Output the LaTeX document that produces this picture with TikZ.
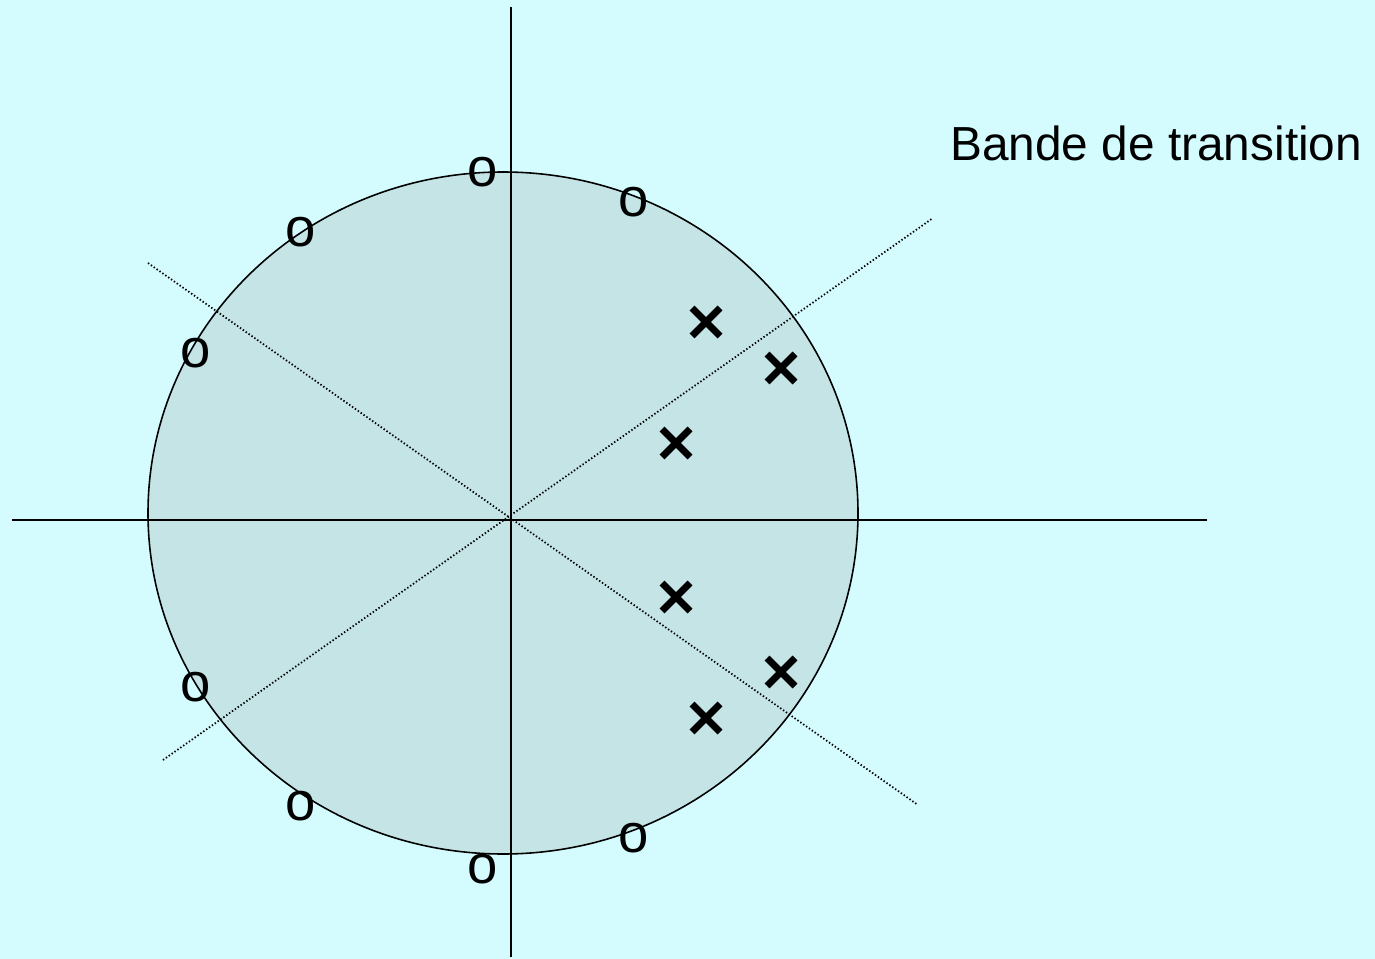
\documentclass[tikz,border=0pt]{standalone}
\usepackage{fontspec}
\setmainfont{Liberation Sans}
\definecolor{bgc}{RGB}{212,252,255}
\definecolor{discc}{RGB}{196,228,230}
\begin{document}
\begin{tikzpicture}[x=0.02cm,y=-0.02cm,
  zero/.style={inner sep=0pt,font=\fontsize{31}{31}\selectfont},
  pole/.style={line width=4pt},
  axis/.style={line width=0.8pt},
  diag/.style={dash pattern=on 0.8pt off 1.2pt,line width=1pt},
  lbl/.style={inner sep=0pt,font=\fontsize{27.2}{30}\selectfont}]
\fill[bgc] (0,0) rectangle (1375,959);
\useasboundingbox (0,0) rectangle (1375,959);
\coordinate (O) at (511,520);
\coordinate (C) at (503,513);
\filldraw[fill=discc,draw=black,line width=0.9pt] (C) ellipse [x radius=355,y radius=341];
\coordinate (hl) at (12,520); \coordinate (hr) at (1207,520);
\coordinate (vt) at (511,7); \coordinate (vb) at (511,957);
\draw[axis] (hl) -- (hr);
\draw[axis] (vt) -- (vb);
\coordinate (d1a) at (148,263); \coordinate (d1b) at (918,805);
\coordinate (d2a) at (163,760); \coordinate (d2b) at (933,218);
\draw[diag] (d1a) -- (d1b);
\draw[diag] (d2a) -- (d2b);
\foreach \n/\x/\y in {z1/483/172, z2/634/202, z3/301/232, z4/196/353, z5/196/687, z6/301/806, z7/483/869, z8/634/838}
  \node[zero] (\n) at (\x,\y) {o};
\foreach \n/\x/\y in {p1/706/322, p2/781/368, p3/676/443, p4/676/597, p5/781/672, p6/706/718}{
  \coordinate (\n) at (\x,\y);
  \draw[pole] ([shift={(-14,-14)}]\n) -- ([shift={(14,14)}]\n);
  \draw[pole] ([shift={(-14,14)}]\n) -- ([shift={(14,-14)}]\n);
}
\node[lbl,anchor=west] (title) at (950,143) {Bande de transition};
\end{tikzpicture}
\end{document}
